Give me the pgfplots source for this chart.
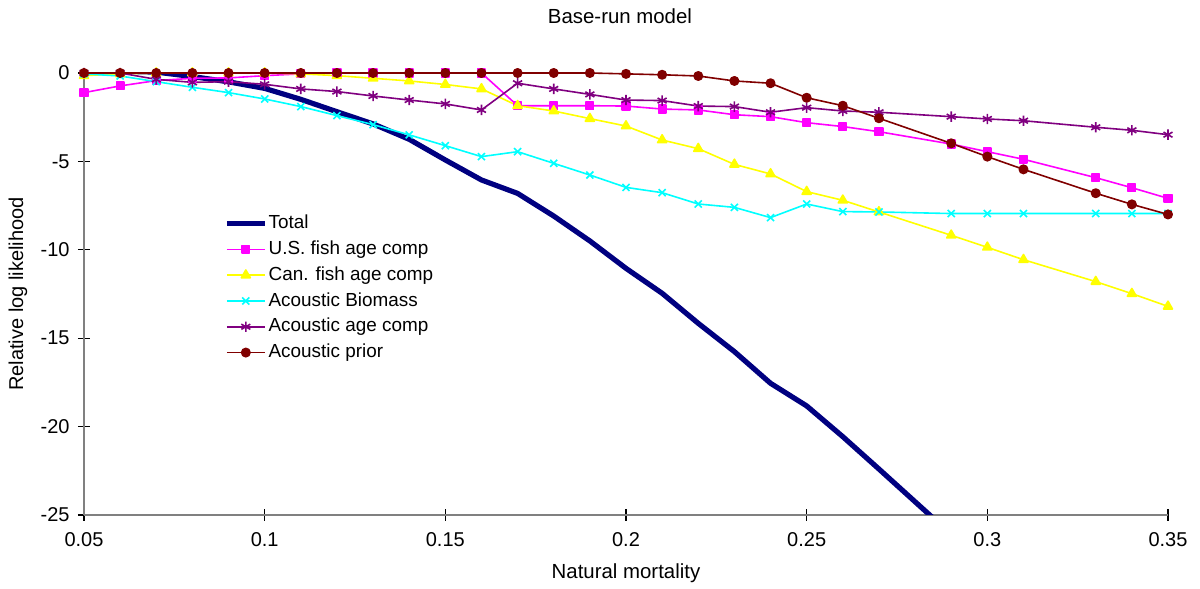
\documentclass[border=0pt]{standalone}
\usepackage{pgfplots}
\pgfplotsset{compat=1.18}
\usepackage{fontspec}
\setmainfont{Liberation Sans}
\definecolor{cTotal}{RGB}{0,0,128}
\definecolor{cUS}{RGB}{255,0,255}
\definecolor{cCan}{RGB}{255,255,0}
\definecolor{cBio}{RGB}{0,255,255}
\definecolor{cAge}{RGB}{128,0,128}
\definecolor{cPrior}{RGB}{128,0,0}
\definecolor{axgray}{RGB}{128,128,128}
\begin{document}
\begin{tikzpicture}
\begin{axis}[
  scale only axis, width=542bp, height=221bp,
  xmin=0.05, xmax=0.35, ymin=-25, ymax=0,
  axis lines=left, axis line style={-, draw=axgray, line width=0.8bp},
  tick align=center, major tick length=6bp,
  tick style={black, line width=0.6bp},
  xtick={0.05,0.1,0.15,0.2,0.25,0.3,0.35},
  xticklabels={0.05,0.1,0.15,0.2,0.25,0.3,0.35},
  ytick={-25,-20,-15,-10,-5,0},
  yticklabels={-25,-20,-15,-10,-5,0},
  font=\fontsize{10bp}{12bp}\selectfont,
  xticklabel style={anchor=base, yshift=-13bp, inner sep=0pt},
  yticklabel style={anchor=east, xshift=-4bp, inner sep=0pt},
  title={Base-run model},
  title style={at={([xshift=-3bp,yshift=19bp]rel axis cs:0.5,1)}, anchor=base, font=\fontsize{10.2bp}{12bp}\selectfont},
  xlabel={Natural mortality},
  xlabel style={at={([yshift=-32bp]rel axis cs:0.5,0)}, anchor=base, font=\fontsize{10.2bp}{12bp}\selectfont},
  ylabel={Relative log likelihood},
  ylabel style={at={([xshift=-33bp]rel axis cs:0,0.5)}, anchor=center, rotate=0},
  legend cell align=left,
  legend style={at={(rel axis cs:0.129,0.684)}, anchor=north west, draw=none, fill=none,
    inner sep=0pt, row sep=2.4bp,
    nodes={inner xsep=0.6bp, inner ysep=0.5bp, text height=7.3bp, text depth=2.2bp},
    font=\fontsize{9.45bp}{11bp}\selectfont},
  legend image code/.code={\draw[mark repeat=2,mark phase=2] plot coordinates {(0bp,0bp)(9.5bp,0bp)(19bp,0bp)};},
  every axis plot/.append style={line join=round},
]
\addplot[cTotal, line width=2.6bp, mark=none] coordinates {
(0.05,0) (0.06,0.1) (0.07,0.05) (0.08,-0.2) (0.09,-0.5) (0.10,-0.87) (0.11,-1.49) (0.12,-2.19) (0.13,-2.88) (0.14,-3.75) (0.15,-4.92) (0.16,-6.05) (0.17,-6.81) (0.18,-8.09) (0.19,-9.5) (0.20,-11.05) (0.21,-12.46) (0.22,-14.16) (0.23,-15.76) (0.24,-17.55) (0.25,-18.83) (0.26,-20.57) (0.27,-22.4) (0.29,-26.1) (0.30,-28.0) (0.31,-30.0) (0.33,-34.0) (0.34,-36.0) (0.35,-38.0)};
\addlegendentry{Total}
\addplot[cUS, line width=0.8bp, mark=square*, mark size=1.9bp, mark options={solid, fill=cUS}] coordinates {
(0.05,-1.11) (0.06,-0.73) (0.07,-0.43) (0.08,-0.3) (0.09,-0.28) (0.10,-0.15) (0.11,-0.05) (0.12,0) (0.13,0) (0.14,0) (0.15,0) (0.16,0) (0.17,-1.85) (0.18,-1.85) (0.19,-1.85) (0.20,-1.87) (0.21,-2.04) (0.22,-2.09) (0.23,-2.36) (0.24,-2.47) (0.25,-2.81) (0.26,-3.03) (0.27,-3.32) (0.29,-4.02) (0.30,-4.45) (0.31,-4.88) (0.33,-5.92) (0.34,-6.49) (0.35,-7.09)};
\addlegendentry{U.S. fish age comp}
\addplot[cCan, line width=0.8bp, mark=triangle*, mark size=2.6bp, mark options={solid, fill=cCan}] coordinates {
(0.05,-0.15) (0.06,-0.05) (0.07,0) (0.08,0) (0.09,0) (0.10,0) (0.11,-0.05) (0.12,-0.15) (0.13,-0.3) (0.14,-0.45) (0.15,-0.65) (0.16,-0.9) (0.17,-1.85) (0.18,-2.15) (0.19,-2.58) (0.20,-3.0) (0.21,-3.79) (0.22,-4.28) (0.23,-5.17) (0.24,-5.71) (0.25,-6.71) (0.26,-7.2) (0.27,-7.86) (0.29,-9.18) (0.30,-9.86) (0.31,-10.56) (0.33,-11.8) (0.34,-12.48) (0.35,-13.2)};
\addlegendentry{Can. fish age comp}
\addplot[cBio, line width=0.8bp, mark=x, mark size=2.5bp, mark options={solid, line width=0.8bp}] coordinates {
(0.05,-0.05) (0.06,-0.17) (0.07,-0.49) (0.08,-0.81) (0.09,-1.11) (0.10,-1.47) (0.11,-1.9) (0.12,-2.41) (0.13,-2.92) (0.14,-3.5) (0.15,-4.11) (0.16,-4.73) (0.17,-4.45) (0.18,-5.11) (0.19,-5.77) (0.20,-6.47) (0.21,-6.77) (0.22,-7.41) (0.23,-7.6) (0.24,-8.18) (0.25,-7.41) (0.26,-7.84) (0.27,-7.86) (0.29,-7.95) (0.30,-7.95) (0.31,-7.95) (0.33,-7.95) (0.34,-7.95) (0.35,-7.95)};
\addlegendentry{Acoustic Biomass}
\addplot[cAge, line width=0.8bp, mark=asterisk, mark size=2.6bp, mark options={solid, line width=0.8bp}] coordinates {
(0.05,0) (0.06,0) (0.07,-0.36) (0.08,-0.53) (0.09,-0.49) (0.10,-0.64) (0.11,-0.9) (0.12,-1.05) (0.13,-1.3) (0.14,-1.53) (0.15,-1.75) (0.16,-2.09) (0.17,-0.58) (0.18,-0.9) (0.19,-1.21) (0.20,-1.53) (0.21,-1.56) (0.22,-1.87) (0.23,-1.9) (0.24,-2.22) (0.25,-1.96) (0.26,-2.15) (0.27,-2.22) (0.29,-2.47) (0.30,-2.6) (0.31,-2.7) (0.33,-3.07) (0.34,-3.24) (0.35,-3.49)};
\addlegendentry{Acoustic age comp}
\addplot[cPrior, line width=0.8bp, mark=*, mark size=2.1bp, mark options={solid, fill=cPrior}] coordinates {
(0.05,0) (0.06,0) (0.07,0) (0.08,0) (0.09,0) (0.10,0) (0.11,0) (0.12,0) (0.13,0) (0.14,0) (0.15,0) (0.16,0) (0.17,0) (0.18,0) (0.19,0) (0.20,-0.05) (0.21,-0.1) (0.22,-0.17) (0.23,-0.45) (0.24,-0.58) (0.25,-1.4) (0.26,-1.85) (0.27,-2.56) (0.29,-3.98) (0.30,-4.73) (0.31,-5.45) (0.33,-6.8) (0.34,-7.43) (0.35,-8.0)};
\addlegendentry{Acoustic prior}
\end{axis}
\pgfresetboundingbox
\path[use as bounding box] ([xshift=-42bp,yshift=-37bp]current axis.south west) rectangle ([xshift=16bp,yshift=36.5bp]current axis.north east);
\end{tikzpicture}
\end{document}
